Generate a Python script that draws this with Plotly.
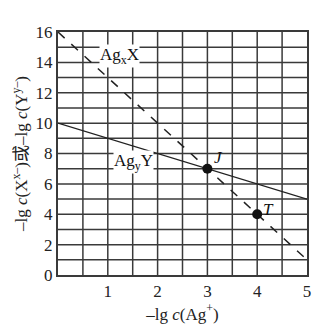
import plotly.graph_objects as go

x_line = [0, 5]
agx_y = [16, 1]
agy_y = [10, 5]
pts_x = [3, 4]
pts_y = [7, 4]
pts_lbl = ["J", "T"]
x_ticks = [1, 2, 3, 4, 5]
y_ticks = [0, 2, 4, 6, 8, 10, 12, 14, 16]

font = "Times New Roman, Liberation Serif, serif"
grid_c = "#3a3a3a"

fig = go.Figure()
fig.add_trace(go.Scatter(x=x_line, y=agx_y, mode="lines",
                         line=dict(color="#222", width=1.5, dash="dash"), showlegend=False))
fig.add_trace(go.Scatter(x=x_line, y=agy_y, mode="lines",
                         line=dict(color="#222", width=1.3), showlegend=False))
fig.add_trace(go.Scatter(x=pts_x, y=pts_y, mode="markers",
                         marker=dict(color="#111", size=10), showlegend=False))

lbl_off = [(0.22, 0.75), (0.22, 0.3)]
for (xx, yy, t), (dx, dy) in zip(zip(pts_x, pts_y, pts_lbl), lbl_off):
    fig.add_annotation(x=xx + dx, y=yy + dy, text="<i>%s</i>" % t, showarrow=False,
                       font=dict(family=font, size=17, color="#111"))

fig.add_annotation(x=1.23, y=14.45, text="Ag<sub>x</sub>X", showarrow=False,
                   font=dict(family=font, size=17, color="#111"), bgcolor="white",
                   borderpad=0)
fig.add_annotation(x=1.52, y=7.45, text="Ag<sub>y</sub>Y", showarrow=False,
                   font=dict(family=font, size=17, color="#111"), bgcolor="white",
                   borderpad=0)

fig.update_layout(
    width=333, height=331,
    margin=dict(l=58, r=26, t=32, b=52),
    paper_bgcolor="white", plot_bgcolor="white",
    font=dict(family=font, size=17, color="#222"),
    xaxis=dict(range=[0, 5], tickvals=x_ticks, showgrid=False,
               showline=True, linecolor=grid_c, linewidth=2, mirror=True,
               ticks="", zeroline=False, tickfont=dict(family=font, size=17),
               title=dict(text="–lg <i>c</i>(Ag<sup>+</sup>)", standoff=6,
                          font=dict(family=font, size=17))),
    yaxis=dict(range=[0, 16], tickvals=y_ticks, showgrid=False,
               showline=True, linecolor=grid_c, linewidth=2, mirror=True,
               ticks="", zeroline=False, tickfont=dict(family=font, size=17),
               title=dict(text="–lg <i>c</i>(X<sup>x–</sup>)<span style='font-family:Noto Sans CJK SC'>或</span>–lg <i>c</i>(Y<sup>y–</sup>)",
                          standoff=4, font=dict(family=font, size=17))),
)

for gx in [i * 0.5 for i in range(1, 10)]:
    fig.add_shape(type="line", x0=gx, x1=gx, y0=0, y1=16, xref="x", yref="y",
                  line=dict(color=grid_c, width=1.5), layer="below")
for gy in range(1, 16):
    fig.add_shape(type="line", x0=0, x1=5, y0=gy, y1=gy, xref="x", yref="y",
                  line=dict(color=grid_c, width=1.5), layer="below")

fig.write_html("out.html")
